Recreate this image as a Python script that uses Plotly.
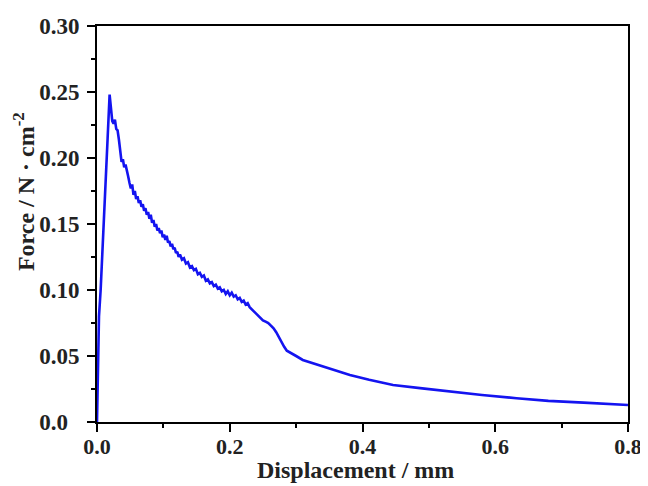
import plotly.graph_objects as go

displacement = [0.0, 0.001, 0.003, 0.0055, 0.009, 0.012, 0.016, 0.019,
    0.021, 0.023, 0.025, 0.027, 0.029, 0.031, 0.033, 0.035, 0.037, 0.039,
    0.041, 0.043, 0.045, 0.047, 0.049, 0.051, 0.053, 0.055, 0.057, 0.059,
    0.061, 0.063, 0.065, 0.067, 0.069, 0.071, 0.073, 0.075, 0.077, 0.079,
    0.081, 0.083, 0.085, 0.087, 0.089, 0.091, 0.093, 0.095, 0.097, 0.099,
    0.101, 0.103, 0.105, 0.107, 0.109, 0.111, 0.113, 0.115, 0.117, 0.119,
    0.121, 0.123, 0.125, 0.128, 0.131, 0.134, 0.137, 0.140, 0.143, 0.146,
    0.149, 0.152, 0.155, 0.158, 0.161, 0.164, 0.167, 0.170, 0.173, 0.176,
    0.179, 0.182, 0.185, 0.188, 0.191, 0.194, 0.197, 0.200, 0.203, 0.206,
    0.209, 0.212, 0.215, 0.218, 0.221, 0.224, 0.227, 0.230, 0.234, 0.238,
    0.242, 0.246, 0.250, 0.254, 0.258, 0.262, 0.266, 0.270, 0.274, 0.278,
    0.282, 0.286, 0.292, 0.300, 0.310, 0.326, 0.350, 0.381, 0.410, 0.446,
    0.490, 0.532, 0.580, 0.632, 0.680, 0.733, 0.770, 0.800]

force = [0.0, 0.04, 0.08, 0.10, 0.135, 0.170, 0.215, 0.248,
    0.240, 0.228, 0.226, 0.229, 0.222, 0.221, 0.214, 0.205, 0.197, 0.199,
    0.193, 0.195, 0.189, 0.186, 0.181, 0.177, 0.180, 0.172, 0.175, 0.169,
    0.171, 0.166, 0.168, 0.163, 0.165, 0.160, 0.162, 0.157, 0.159, 0.154,
    0.157, 0.151, 0.153, 0.148, 0.150, 0.145, 0.147, 0.143, 0.145, 0.140,
    0.142, 0.138, 0.141, 0.136, 0.137, 0.133, 0.135, 0.131, 0.132, 0.128,
    0.129, 0.125, 0.127, 0.123, 0.124, 0.120, 0.121, 0.117, 0.118, 0.115,
    0.116, 0.112, 0.113, 0.110, 0.111, 0.107, 0.108, 0.105, 0.106, 0.103,
    0.104, 0.101, 0.102, 0.099, 0.100, 0.097, 0.099, 0.096, 0.098, 0.095,
    0.096, 0.093, 0.094, 0.091, 0.092, 0.089, 0.090, 0.087, 0.085, 0.083,
    0.081, 0.079, 0.077, 0.076, 0.075, 0.073, 0.071, 0.068, 0.064, 0.060,
    0.057, 0.054, 0.052, 0.050, 0.047, 0.0444, 0.041, 0.0356, 0.032, 0.028,
    0.0255, 0.023, 0.0205, 0.018, 0.016, 0.0147, 0.0137, 0.0129]

x_tickvals = [0.0, 0.2, 0.4, 0.6, 0.8]
x_ticktext = ["0.0", "0.2", "0.4", "0.6", "0.8"]
y_tickvals = [0.0, 0.05, 0.10, 0.15, 0.20, 0.25, 0.30]
y_ticktext = ["0.0&nbsp;&nbsp;", "0.05", "0.10", "0.15", "0.20", "0.25", "0.30"]
x_title = "Displacement / mm"
y_title = "Force / N · cm<sup>-2</sup>"

font_family = "Liberation Serif, Times New Roman, serif"
text_color = "#222222"

fig = go.Figure()
fig.add_trace(go.Scatter(
    x=displacement, y=force, mode="lines",
    line=dict(color="#1414f0", width=2.6),
    showlegend=False,
))

axis_common = dict(
    showgrid=False, zeroline=False, automargin=False,
    showline=True, linecolor="black", linewidth=2, mirror=True,
    ticks="outside", ticklen=8, tickwidth=2, tickcolor="black",
)

fig.update_xaxes(
    range=[0, 0.8], tickvals=x_tickvals, ticktext=x_ticktext,
    minor=dict(ticks="outside", ticklen=4, tickwidth=2, tickcolor="black", dtick=0.1, tick0=0),
    ticklabelstandoff=-4,
    tickfont=dict(family=font_family, size=22, color=text_color, weight="bold"),
    **axis_common,
)
fig.update_yaxes(
    range=[0, 0.30], tickvals=y_tickvals, ticktext=y_ticktext,
    minor=dict(ticks="outside", ticklen=4, tickwidth=2, tickcolor="black", dtick=0.025, tick0=0),
    ticklabelstandoff=3,
    tickfont=dict(family=font_family, size=23, color=text_color, weight="bold"),
    **axis_common,
)

fig.add_annotation(
    text="<b>" + x_title + "</b>", xref="paper", yref="paper",
    x=0.4875, y=-0.1200, xanchor="center", yanchor="middle", showarrow=False,
    font=dict(family=font_family, size=24, color=text_color),
)
fig.add_annotation(
    text="<b>" + y_title + "</b>", xref="paper", yref="paper",
    x=-0.1375, y=0.583, xanchor="center", yanchor="middle", showarrow=False,
    textangle=-90,
    font=dict(family=font_family, size=24, color=text_color),
)

fig.update_layout(
    width=640, height=478,
    margin=dict(l=89, r=20, t=18, b=64),
    plot_bgcolor="white", paper_bgcolor="white",
    font=dict(family=font_family, color=text_color),
)

fig.write_html("out.html")
